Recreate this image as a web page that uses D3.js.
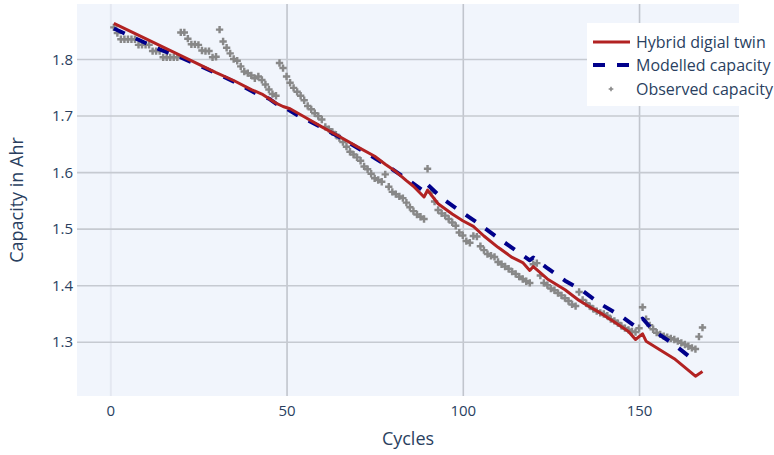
<!DOCTYPE html>
<html><head><meta charset="utf-8">
<script src="https://cdn.jsdelivr.net/npm/d3@7/dist/d3.min.js"></script>
<style>html,body{margin:0;padding:0;background:#fff;}svg{display:block;}</style>
</head><body>
<svg id="chart" width="774" height="455"></svg>
<script>
// ---- data ----
const seriesNames = ["Hybrid digial twin", "Modelled capacity", "Observed capacity"];
const observedCapacity = [
1.856,1.846,1.835,1.835,1.835,1.835,1.835,1.825,1.825,1.825,
1.825,1.814,1.814,1.814,1.803,1.803,1.803,1.803,1.803,1.847,
1.847,1.836,1.826,1.826,1.825,1.815,1.814,1.814,1.803,1.804,
1.852,1.831,1.820,1.810,1.800,1.797,1.787,1.778,1.775,1.771,
1.766,1.769,1.763,1.755,1.746,1.738,1.735,1.793,1.784,1.769,
1.758,1.749,1.742,1.735,1.727,1.717,1.711,1.704,1.699,1.693,
1.680,1.676,1.671,1.666,1.660,1.653,1.645,1.636,1.631,1.626,
1.620,1.610,1.605,1.597,1.589,1.586,1.583,1.596,1.574,1.565,
1.561,1.557,1.554,1.546,1.538,1.531,1.525,1.521,1.517,1.606,
1.564,1.548,1.533,1.527,1.523,1.517,1.511,1.505,1.493,1.488,
1.478,1.475,1.487,1.486,1.469,1.462,1.455,1.452,1.450,1.441,
1.437,1.433,1.429,1.424,1.420,1.415,1.411,1.407,1.404,1.437,
1.439,1.417,1.404,1.400,1.394,1.391,1.386,1.382,1.377,1.372,
1.366,1.363,1.388,1.374,1.368,1.363,1.358,1.354,1.351,1.349,
1.346,1.340,1.337,1.333,1.328,1.324,1.321,1.318,1.317,1.324,
1.361,1.340,1.329,1.322,1.316,1.313,1.310,1.308,1.306,1.304,
1.301,1.298,1.295,1.292,1.289,1.287,1.309,1.325];
const observedCycles = observedCapacity.map((v,i)=>i+1);

const hybridCycles = [1,10,20,30,35,40,43,47,49,51,55,60,65,70,75,78,81,84,86,89,90,93,97,100,103,106,110,114,117,119,120,124,129,133,137,139,143,147,149,151,152,160,166,168];
const hybridCapacity = [1.863,1.836,1.806,1.776,1.762,1.746,1.738,1.722,1.716,1.712,1.698,1.680,1.663,1.645,1.628,1.614,1.601,1.585,1.575,1.556,1.568,1.544,1.526,1.514,1.504,1.487,1.467,1.449,1.440,1.426,1.433,1.411,1.392,1.373,1.358,1.351,1.335,1.318,1.304,1.314,1.301,1.270,1.239,1.2475];

const modelCycles = [1,8,14,20,25,31,37,42,45,47,49,53,59,65,69,75,80,85,89,90,94,99,104,109,114,119,120,124,129,134,139,145,149,151,154,160,166];
const modelCapacity = [1.854,1.834,1.817,1.803,1.789,1.772,1.754,1.737,1.730,1.721,1.716,1.701,1.682,1.662,1.647,1.625,1.605,1.584,1.566,1.578,1.554,1.532,1.511,1.488,1.466,1.444,1.449,1.430,1.408,1.390,1.367,1.345,1.327,1.341,1.320,1.295,1.265];

const xTicks = [0,50,100,150];
const yTicks = [1.3,1.4,1.5,1.6,1.7,1.8];
const xTitle = "Cycles";
const yTitle = "Capacity in Ahr";

// ---- layout ----
const L = 77, R = 739, T = 4, B = 396;
const font = "'Open Sans', 'Noto Sans', sans-serif";
const txt = "#2a3f5f";
const svg = d3.select("#chart");

const x = d3.scaleLinear().domain([-9.45, 178.36]).range([L, R]);
const y = d3.scaleLinear().domain([1.2040, 1.8973]).range([B, T]);

svg.append("rect").attr("x",L).attr("y",T).attr("width",R-L).attr("height",B-T).attr("fill","#F1F5FC");

// grid
const gx = svg.append("g").attr("transform",`translate(0,${B})`)
  .call(d3.axisBottom(x).tickValues(xTicks).tickSize(-(B-T)).tickFormat(d=>d));
gx.select(".domain").remove();
gx.selectAll(".tick line").attr("stroke", d=> d===0 ? "#E4E8F1" : "#C1C5CD").attr("stroke-width", d=> d===0?2:1.6);
gx.selectAll(".tick text").attr("font-family",font).attr("font-size",15).attr("fill",txt).attr("y",9).attr("dy","0.71em");

const gy = svg.append("g").attr("transform",`translate(${L},0)`)
  .call(d3.axisLeft(y).tickValues(yTicks).tickSize(-(R-L)).tickFormat(d3.format(".1f")));
gy.select(".domain").remove();
gy.selectAll(".tick line").attr("stroke","#C6CAD1").attr("stroke-width",1.6);
gy.selectAll(".tick text").attr("font-family",font).attr("font-size",15).attr("fill",txt).attr("x",-4).attr("dy","0.35em");

const clip = svg.append("defs").append("clipPath").attr("id","clip");
clip.append("rect").attr("x",L).attr("y",T).attr("width",R-L).attr("height",B-T);
const plot = svg.append("g").attr("clip-path","url(#clip)");

const line = d3.line().x(d=>x(d[0])).y(d=>y(d[1]));

// observed markers
const cross = d3.symbol().type(d3.symbolCross).size(30);
plot.append("g").selectAll("path").data(observedCycles.map((c,i)=>[c,observedCapacity[i]]))
  .join("path").attr("d",cross).attr("transform",d=>`translate(${x(d[0])},${y(d[1])})`)
  .attr("fill","#888888");

// modelled dashed
plot.append("path").datum(modelCycles.map((c,i)=>[c,modelCapacity[i]]))
  .attr("d",line).attr("fill","none").attr("stroke","#00008B").attr("stroke-width",4)
  .attr("stroke-dasharray","12,12").attr("stroke-linejoin","round");

// hybrid line
plot.append("path").datum(hybridCycles.map((c,i)=>[c,hybridCapacity[i]]))
  .attr("d",line).attr("fill","none").attr("stroke","#B22222").attr("stroke-width",3)
  .attr("stroke-linejoin","round");

// axis titles
svg.append("text").attr("x",(L+R)/2).attr("y",445).attr("text-anchor","middle")
  .attr("font-family",font).attr("font-size",18).attr("fill",txt).text(xTitle);
svg.append("text").attr("transform",`translate(23,${(T+B)/2}) rotate(-90)`).attr("text-anchor","middle")
  .attr("font-family",font).attr("font-size",18).attr("fill",txt).text(yTitle);

// legend
const lg = svg.append("g");
lg.append("rect").attr("x",587).attr("y",23).attr("width",186).attr("height",83).attr("fill","#fff");
const rows = [42, 65, 89];
lg.append("line").attr("x1",593).attr("x2",630).attr("y1",rows[0]).attr("y2",rows[0]).attr("stroke","#B22222").attr("stroke-width",3);
lg.append("line").attr("x1",593).attr("x2",630).attr("y1",rows[1]).attr("y2",rows[1]).attr("stroke","#00008B").attr("stroke-width",4).attr("stroke-dasharray","12,12").attr("stroke-dashoffset",0);
lg.append("path").attr("d",d3.symbol().type(d3.symbolCross).size(12)).attr("transform",`translate(611,${rows[2]})`).attr("fill","#888888");
seriesNames.forEach((n,i)=>{
  lg.append("text").attr("x",636).attr("y",rows[i]).attr("dy","0.35em").attr("font-family",font)
    .attr("font-size",16).attr("fill",txt).text(n);
});
</script>
</body></html>
